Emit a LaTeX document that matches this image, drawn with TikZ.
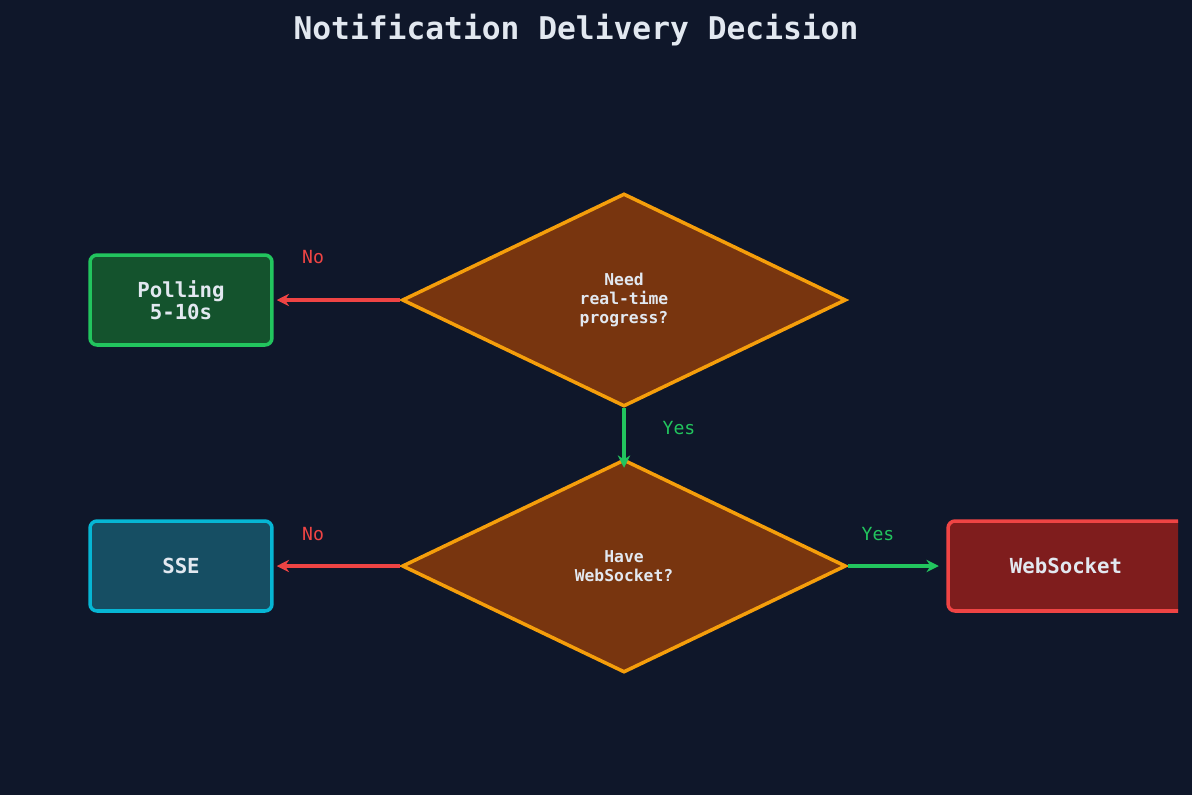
\documentclass[tikz,border=0pt]{standalone}
\usepackage{fontspec}
\setmonofont{DejaVu Sans Mono}
\usetikzlibrary{shapes.geometric,arrows.meta}
\definecolor{bg}{HTML}{0F172A}
\definecolor{dfill}{HTML}{78350F}
\definecolor{dline}{HTML}{F59E0B}
\definecolor{pfill}{HTML}{14532D}
\definecolor{pline}{HTML}{22C55E}
\definecolor{sfill}{HTML}{164E63}
\definecolor{sline}{HTML}{06B6D4}
\definecolor{wfill}{HTML}{7F1D1D}
\definecolor{wline}{HTML}{EF4444}
\definecolor{txt}{HTML}{E2E8F0}
\begin{document}
\begin{tikzpicture}[x=0.02cm,y=-0.02cm,
  dec/.style={diamond,draw=dline,fill=dfill,line width=2pt,inner sep=0pt,minimum width=8.88cm,minimum height=4.26cm,text=txt,font=\ttfamily\bfseries\fontsize{9.3}{11}\selectfont,align=center},
  box/.style={rounded corners=4pt,line width=2pt,minimum width=3.64cm,minimum height=1.8cm,text=txt,font=\ttfamily\bfseries\fontsize{11.8}{12.5}\selectfont,align=center},
  arr/.style={-{Stealth[length=7pt,width=7pt]},line width=2pt},
  lab/.style={font=\ttfamily\fontsize{10.3}{12}\selectfont}]
\fill[bg] (0,0) rectangle (1192,795);
\useasboundingbox (0,0) rectangle (1192,795);
\node[text=txt,font=\ttfamily\bfseries\fontsize{17.8}{20}\selectfont] (title) at (576,30) {Notification Delivery Decision};
\node[dec] (d1) at (624,300) {Need\\real-time\\progress?};
\node[dec] (d2) at (624,566) {Have\\WebSocket?};
\node[box,draw=pline,fill=pfill] (poll) at (181,300) {Polling\\5-10s};
\node[box,draw=sline,fill=sfill] (sse) at (181,566) {SSE};
\begin{scope}
\clip (900,500) rectangle (1178,640);
\node[box,draw=wline,fill=wfill,minimum width=5.04cm] (ws) at (1074,566) {};
\end{scope}
\node[text=txt,font=\ttfamily\bfseries\fontsize{11.8}{13}\selectfont] (wst) at (1066,566) {WebSocket};
\draw[arr,wline] (d1.west) -- ([xshift=0.06cm]poll.east);
\draw[arr,pline] (d1.south) -- ([yshift=-0.2cm]d2.north);
\draw[arr,wline] (d2.west) -- ([xshift=0.06cm]sse.east);
\draw[arr,pline] (d2.east) -- ([xshift=-0.15cm]ws.west);
\node[lab,text=wline] (l1) at (313,257) {No};
\node[lab,text=pline] (l2) at (679,428) {Yes};
\node[lab,text=wline] (l3) at (313,534) {No};
\node[lab,text=pline] (l4) at (878,534) {Yes};
\end{tikzpicture}
\end{document}
